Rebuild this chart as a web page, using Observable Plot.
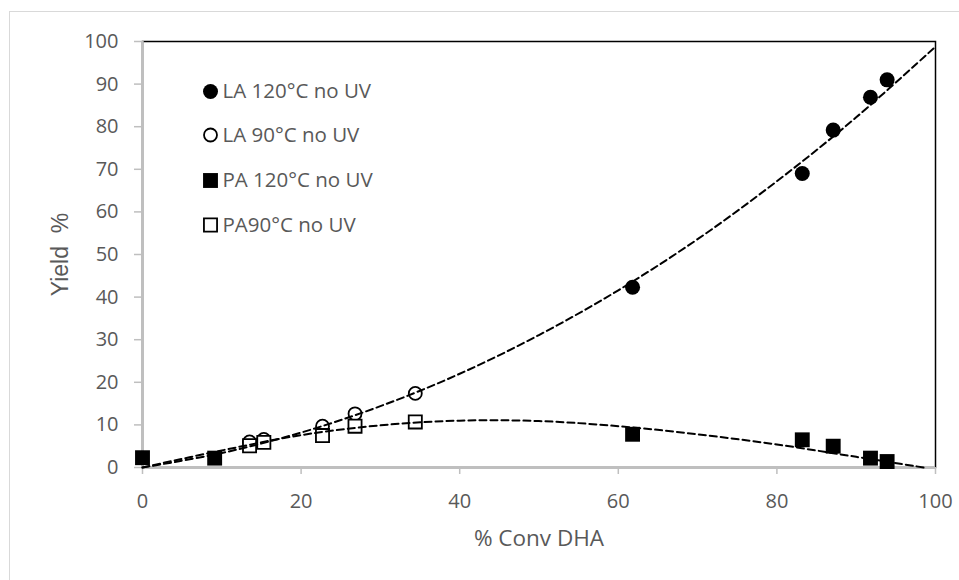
<!DOCTYPE html>
<html>
<head>
<meta charset="utf-8">
<script src="https://cdn.jsdelivr.net/npm/d3@7"></script>
<script src="https://cdn.jsdelivr.net/npm/@observablehq/plot@0.6"></script>
<style>
  html, body { margin: 0; padding: 0; background: #fff; }
  #wrap { position: relative; width: 959px; height: 580px; overflow: hidden; background: #fff; }
  #border { position: absolute; left: 9px; top: 11px; width: 1000px; height: 700px; border: 1.5px solid #D9D9D9; box-sizing: border-box; pointer-events: none; z-index: 2; }
  #chart { position: absolute; left: 0; top: 0; z-index: 1; }
</style>
</head>
<body>
<div id="wrap"><div id="chart"></div><div id="border"></div></div>
<script>
// ---- data ----
const la120X = [61.8, 83.2, 87.1, 91.8, 93.9];
const la120Y = [42.3, 69.0, 79.2, 86.9, 91.0];

const la90X = [13.5, 15.3, 22.7, 26.8, 34.4];
const la90Y = [6.0, 6.6, 9.7, 12.6, 17.4];

const pa120X = [0, 9.1, 61.8, 83.2, 87.1, 91.8, 93.9];
const pa120Y = [2.3, 2.2, 7.8, 6.5, 5.0, 2.2, 1.4];

const pa90X = [13.5, 15.3, 22.7, 26.8, 34.4];
const pa90Y = [5.1, 5.9, 7.5, 9.7, 10.7];

// dashed trend curves
const laTrendX = [0, 10, 20, 30, 40, 50, 60, 70, 80, 90, 100];
const laTrendY = [0, 3.4, 8.2, 14.4, 22.0, 31.1, 41.6, 53.6, 67.2, 82.2, 98.8];
const paTrendX = [0, 10, 20, 30, 40, 50, 60, 70, 80, 90, 98.5];
const paTrendY = [0, 4.0, 7.6, 9.9, 11.0, 10.9, 9.7, 7.8, 5.4, 2.5, 0];

const xTicks = [0, 20, 40, 60, 80, 100];
const yTicks = [0, 10, 20, 30, 40, 50, 60, 70, 80, 90, 100];

const legendLabels = ["LA 120°C no UV", "LA 90°C no UV", "PA 120°C no UV", "PA90°C no UV"];
const xLabel = "% Conv DHA";
const yLabel = "Yield\u00a0\u00a0%";

// ---- build ----
const zip = (xs, ys) => xs.map((x, i) => ({x, y: ys[i]}));
const la120 = zip(la120X, la120Y);
const la90 = zip(la90X, la90Y);
const pa120 = zip(pa120X, pa120Y);
const pa90 = zip(pa90X, pa90Y);
const laTrend = zip(laTrendX, laTrendY);
const paTrend = zip(paTrendX, paTrendY);

const FONT = "'Open Sans', sans-serif";
const GRAY = "#595959";
const AXIS = "#BFBFBF";

const styles = [
  {symbol: "circle", fill: "black", stroke: "none", r: 7.5, strokeWidth: 0},
  {symbol: "circle", fill: "white", stroke: "black", r: 6.5, strokeWidth: 1.8},
  {symbol: "square", fill: "black", stroke: "none", r: 8.4, strokeWidth: 0},
  {symbol: "square", fill: "white", stroke: "black", r: 7.4, strokeWidth: 1.8}
];
const legendDy = [50, 93.5, 139, 183.5];

const legendMarks = [];
legendLabels.forEach((lab, i) => {
  const s = styles[i];
  legendMarks.push(Plot.dot([lab], {frameAnchor: "top-left", dx: 68, dy: legendDy[i], symbol: s.symbol, fill: s.fill, stroke: s.stroke, strokeWidth: s.strokeWidth, r: s.r}));
  legendMarks.push(Plot.text([lab], {frameAnchor: "top-left", dx: 80, dy: legendDy[i], text: d => d, textAnchor: "start", lineAnchor: "middle", fill: GRAY, fontSize: 20.5, fontFamily: FONT}));
});

const dotMark = (data, s) => Plot.dot(data, {x: "x", y: "y", symbol: s.symbol, fill: s.fill, stroke: s.stroke, strokeWidth: s.strokeWidth, r: s.r});

const chart = Plot.plot({
  width: 959,
  height: 580,
  marginLeft: 142,
  marginRight: 24,
  marginTop: 41,
  marginBottom: 113,
  style: {fontFamily: FONT, background: "transparent", overflow: "visible"},
  x: {domain: [0, 100], axis: null},
  y: {domain: [0, 100], axis: null},
  marks: [
    Plot.frame({stroke: "black", strokeWidth: 1.5}),
    Plot.axisY(yTicks, {tickSize: 8, tickPadding: 16, stroke: AXIS, strokeWidth: 1.5, fill: GRAY, fontSize: 20, label: null, tickFormat: d => String(d)}),
    Plot.axisX(xTicks, {tickSize: 7, tickPadding: 19, stroke: AXIS, strokeWidth: 1.5, fill: GRAY, fontSize: 20, label: null, tickFormat: d => String(d)}),
    Plot.ruleX([0], {stroke: AXIS, strokeWidth: 2.5}),
    Plot.ruleY([0], {stroke: AXIS, strokeWidth: 2.5}),
    Plot.text([xLabel], {frameAnchor: "bottom", dy: 71, lineAnchor: "middle", text: d => d, fill: GRAY, fontSize: 22.5, fontFamily: FONT}),
    Plot.text([yLabel], {frameAnchor: "left", dx: -82, dy: 0, rotate: -90, textAnchor: "middle", lineAnchor: "middle", text: d => d, fill: GRAY, fontSize: 23, fontFamily: "'Liberation Sans', Arial, sans-serif"}),
    dotMark(la120, styles[0]),
    dotMark(la90, styles[1]),
    dotMark(pa120, styles[2]),
    dotMark(pa90, styles[3]),
    Plot.line(laTrend, {x: "x", y: "y", curve: "catmull-rom", stroke: "black", strokeWidth: 2, strokeDasharray: "7,4"}),
    Plot.line(paTrend, {x: "x", y: "y", curve: "catmull-rom", stroke: "black", strokeWidth: 2, strokeDasharray: "7,4"}),
    ...legendMarks
  ]
});
document.getElementById("chart").appendChild(chart);
</script>
</body>
</html>
